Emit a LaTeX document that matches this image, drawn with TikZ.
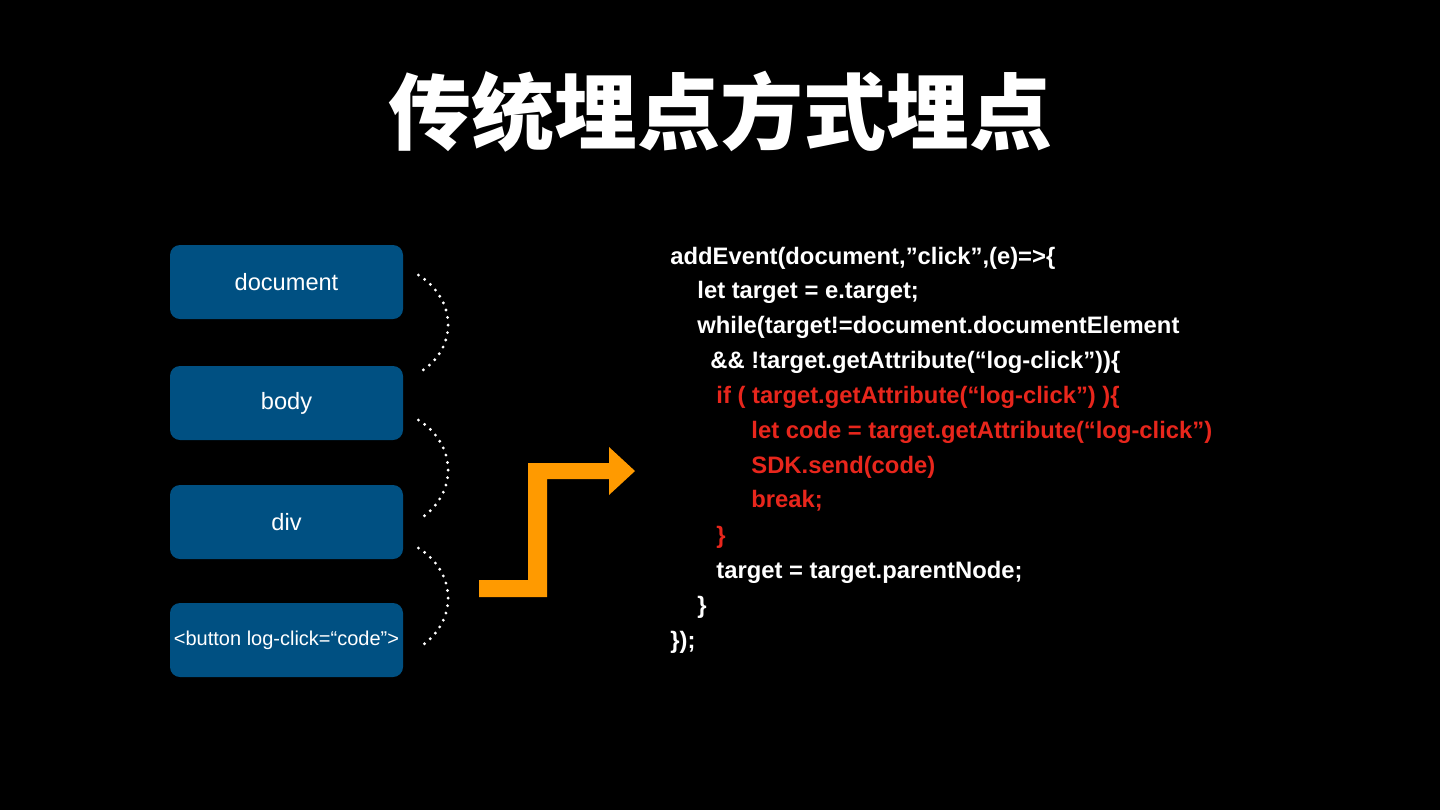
\documentclass[tikz,border=0pt]{standalone}
\usepackage{fontspec}
\setmainfont{Liberation Sans}
\newfontfamily\cjk{Noto Sans CJK SC}
\definecolor{boxblue}{RGB}{0,80,130}
\definecolor{arrorange}{RGB}{255,154,0}
\definecolor{codered}{RGB}{232,38,28}
\begin{document}
\begin{tikzpicture}[x=0.5pt,y=-0.5pt,
  dombox/.style={fill=boxblue, rounded corners=5pt, minimum width=116.5pt, minimum height=37pt, text=white, inner sep=0pt, font=\fontsize{11.8}{13}\selectfont},
  dots/.style={white, line width=1.6pt, line cap=round, dash pattern=on 0pt off 3.8pt},
  codeline/.style={anchor=base west, inner sep=0pt, text=white, font=\fontsize{11.9}{14}\selectfont\bfseries},
  redline/.style={codeline, text=codered}]
\fill[black] (0,0) rectangle (1440,810);
\useasboundingbox (0,0) rectangle (1440,810);
\node[text=white, font=\fontsize{41.5}{48}\selectfont\cjk\bfseries] (title) at (720,112) {传统埋点方式埋点};

\node[dombox] (doc) at (286.5,282) {document};
\node[dombox] (body) at (286.5,403) {body};
\node[dombox] (div) at (286.5,522) {div};
\node[dombox, font=\fontsize{10}{12}\selectfont] (btn) at (286.5,640) {<button log-click=“code”>};

\coordinate (a1) at ([shift={(15,-7)}]doc.east);
\coordinate (a2) at ([shift={(15,-30)}]body.east);
\coordinate (b1) at ([shift={(15,17)}]body.east);
\coordinate (b2) at ([shift={(15,-2)}]div.east);
\coordinate (c1) at ([shift={(15,26)}]div.east);
\coordinate (c2) at ([shift={(15,8)}]btn.east);
\draw[dots] (a1) .. controls (458,300) and (458,350) .. (a2);
\draw[dots] (b1) .. controls (458,445) and (458,495) .. (b2);
\draw[dots] (c1) .. controls (458,573) and (458,623) .. (c2);

\fill[arrorange] (479,580) -- (528,580) -- (528,463) -- (609,463) -- (609,447) -- (635,471) -- (609,495) -- (609,479) -- (547,479) -- (547,597) -- (479,597) -- cycle;

\node[codeline] (l1) at (670,264) {addEvent(document,”click”,(e)=>\{};
\node[codeline] (l2) at (697,298) {let target = e.target;};
\node[codeline] (l3) at (697,333) {while(target!=document.documentElement};
\node[codeline] (l4) at (710,368) {\&\& !target.getAttribute(“log-click”))\{};
\node[redline] (l5) at (716,403) {if ( target.getAttribute(“log-click”) )\{};
\node[redline] (l6) at (751,438) {let code = target.getAttribute(“log-click”)};
\node[redline] (l7) at (751,473) {SDK.send(code)};
\node[redline] (l8) at (751,507) {break;};
\node[redline] (l9) at (716,543) {\}};
\node[codeline] (l10) at (716,578) {target = target.parentNode;};
\node[codeline] (l11) at (697,613) {\}};
\node[codeline] (l12) at (670,648) {\});};
\end{tikzpicture}
\end{document}
